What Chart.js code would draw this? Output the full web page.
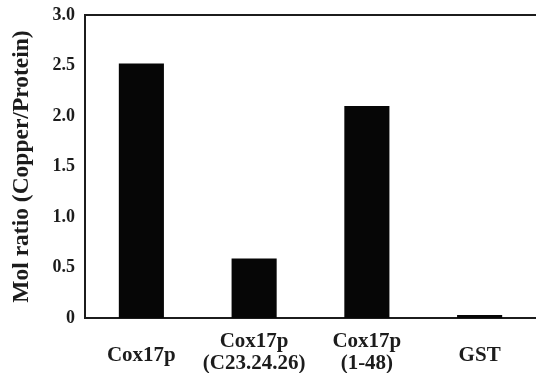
<!DOCTYPE html>
<html>
<head>
<meta charset="utf-8">
<script src="https://cdn.jsdelivr.net/npm/chart.js@4/dist/chart.umd.min.js"></script>
<style>
    html, body { margin: 0; padding: 0; background: #ffffff; }
    #wrap { position: relative; width: 536px; height: 373px; }
</style>
</head>
<body>
<div id="wrap"><canvas id="copperChart"></canvas></div>
<script>
    // ============================================================
    // DATA
    // ============================================================
    const categories = [
        ['Cox17p'],
        ['Cox17p', '(C23.24.26)'],
        ['Cox17p', '(1-48)'],
        ['GST']
    ];
    const molRatio = [2.52, 0.59, 2.10, 0.03];
    const yTickValues = [0, 0.5, 1.0, 1.5, 2.0, 2.5, 3.0];
    const yTickLabels = ['0', '0.5', '1.0', '1.5', '2.0', '2.5', '3.0'];

    const SERIF = "'Liberation Serif', 'Times New Roman', serif";
    const INK = '#1c1c1c';

    // top frame line (plot has a box on top and left, open on the right)
    const topFrame = {
        id: 'topFrame',
        afterDraw(chart) {
            const { ctx, chartArea } = chart;
            ctx.save();
            ctx.strokeStyle = INK;
            ctx.lineWidth = 2;
            ctx.beginPath();
            ctx.moveTo(chartArea.left, chartArea.top);
            ctx.lineTo(chart.width, chartArea.top);
            ctx.stroke();
            ctx.restore();
        }
    };

    new Chart(document.getElementById('copperChart'), {
        type: 'bar',
        data: {
            labels: categories,
            datasets: [{
                data: molRatio,
                backgroundColor: '#060606',
                borderWidth: 0,
                barPercentage: 0.4,
                categoryPercentage: 1.0
            }]
        },
        options: {
            responsive: true,
            maintainAspectRatio: false,
            animation: false,
            layout: { padding: { top: 15, right: 0, bottom: 0, left: 0 } },
            plugins: {
                legend: { display: false },
                tooltip: { enabled: false }
            },
            scales: {
                x: {
                    grid: { display: false, drawTicks: false },
                    border: { display: true, color: INK, width: 2 },
                    ticks: {
                        color: INK,
                        padding: 13,
                        maxRotation: 0,
                        autoSkip: false,
                        // single-line labels sit halfway between the two lines of the others
                        font: (ctx) => ({
                            family: SERIF,
                            size: 21,
                            weight: 'bold',
                            lineHeight: categories[ctx.index] && categories[ctx.index].length === 1 ? 2.3 : 1.05
                        })
                    },
                    afterFit: (scale) => { scale.height = 55; scale.paddingLeft = 0; scale.paddingRight = 0; }
                },
                y: {
                    min: 0,
                    max: 3,
                    afterBuildTicks: (scale) => {
                        scale.ticks = yTickValues.map(v => ({ value: v }));
                    },
                    grid: { display: false, drawTicks: false },
                    border: { display: true, color: INK, width: 2 },
                    ticks: {
                        color: INK,
                        padding: 10,
                        font: { family: SERIF, size: 18, weight: 'bold' },
                        callback: (value) => yTickLabels[yTickValues.indexOf(value)]
                    },
                    title: {
                        display: true,
                        text: 'Mol ratio (Copper/Protein)',
                        color: INK,
                        font: { family: SERIF, size: 23.5, weight: 'bold' },
                        padding: { top: 8, bottom: 0 }
                    },
                    afterFit: (scale) => { scale.width = 85; scale.paddingTop = 0; scale.paddingBottom = 0; }
                }
            }
        },
        plugins: [topFrame]
    });
</script>
</body>
</html>
